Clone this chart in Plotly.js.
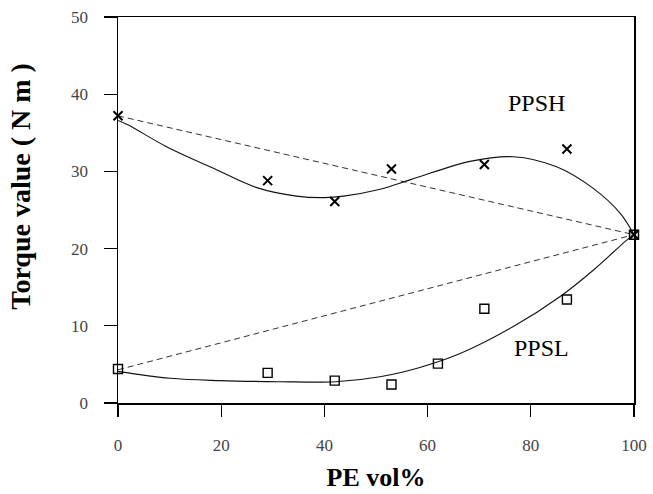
<!DOCTYPE html>
<html>
<head>
<meta charset="utf-8">
<script src="https://cdn.plot.ly/plotly-3.0.1.min.js"></script>
<style>html,body{margin:0;padding:0;background:#fff;}#chart{width:653px;height:494px;}</style>
</head>
<body>
<div id="chart"></div>
<script>
// Measured data (PPSH: x markers, PPSL: open squares)
const ppshX = [0, 29, 42, 53, 71, 87, 100];
const ppshY = [37.2, 28.8, 26.1, 30.3, 30.9, 32.9, 21.8];
const pslX = [0, 29, 42, 53, 62, 71, 87, 100];
const pslY = [4.4, 3.9, 2.9, 2.4, 5.1, 12.2, 13.4, 21.8];

// Smooth fitted curves
const ppshFitX = [0, 2, 9.4, 18.5, 26.9, 34.6, 40, 43.7, 50.8, 56.6, 68.2, 76.6, 85, 92.1, 97.3, 100];
const ppshFitY = [36.6, 36.0, 33.2, 30.4, 27.9, 26.8, 26.6, 26.8, 27.7, 28.9, 31.3, 31.9, 30.6, 27.8, 24.6, 21.8];
const ppslFitX = [0, 10.1, 19.8, 31.4, 42.2, 50.8, 58.5, 66.3, 76.6, 85.7, 92.1, 98.6, 100];
const ppslFitY = [4.1, 3.2, 2.9, 2.76, 2.76, 3.4, 4.6, 6.4, 9.9, 13.8, 17.2, 21.1, 21.8];

// Additivity (dashed) lines
const mixX = [0, 100];
const ppshMixY = [37.2, 21.8];
const ppslMixY = [4.3, 21.8];

const xTicks = [0, 20, 40, 60, 80, 100];
const yTicks = [0, 10, 20, 30, 40, 50];

const serif = "'Liberation Serif', 'Times New Roman', serif";

const traces = [
  {x: mixX, y: ppshMixY, mode: 'lines', line: {color: '#333', width: 1, dash: '6px,4px'}, hoverinfo: 'skip'},
  {x: mixX, y: ppslMixY, mode: 'lines', line: {color: '#333', width: 1, dash: '6px,4px'}, hoverinfo: 'skip'},
  {x: ppshFitX, y: ppshFitY, mode: 'lines', line: {color: '#111', width: 1.1, shape: 'spline', smoothing: 1}},
  {x: ppslFitX, y: ppslFitY, mode: 'lines', line: {color: '#111', width: 1.1, shape: 'spline', smoothing: 1}},
  {x: ppshX, y: ppshY, mode: 'markers', cliponaxis: false,
   marker: {symbol: 'x-thin-open', size: 9, color: '#000', line: {color: '#000', width: 2}}},
  {x: pslX, y: pslY, mode: 'markers', cliponaxis: false,
   marker: {symbol: 'square-open', size: 9, color: '#000', line: {color: '#000', width: 1.4}}}
];

const layout = {
  width: 653, height: 494,
  margin: {l: 118, r: 19, t: 17, b: 91},
  paper_bgcolor: '#fff', plot_bgcolor: '#fff',
  showlegend: false,
  font: {family: serif, color: '#000'},
  xaxis: {
    range: [0, 100], tickvals: xTicks, ticktext: xTicks.map(String),
    ticks: 'outside', ticklen: 12, tickwidth: 1.4, tickcolor: '#000',
    showline: true, linecolor: '#000', linewidth: 1.5, mirror: true,
    showgrid: false, zeroline: false,
    tickfont: {family: serif, size: 17, color: '#444'},
    ticklabelstandoff: 14,
    title: {text: 'PE vol%', font: {family: serif, size: 26, weight: 'bold', color: '#000'}, standoff: 14}
  },
  yaxis: {
    range: [0, 50], tickvals: yTicks, ticktext: yTicks.map(String),
    ticks: 'outside', ticklen: 13, tickwidth: 1.4, tickcolor: '#000',
    showline: true, linecolor: '#000', linewidth: 1.5, mirror: true,
    showgrid: false, zeroline: false,
    tickfont: {family: serif, size: 17, color: '#444'},
    ticklabelstandoff: 12
  },
  annotations: [
    {xref: 'paper', yref: 'paper', x: -0.188, y: 0.563, xanchor: 'center', yanchor: 'middle',
     text: 'Torque value ( N m )', textangle: -90, showarrow: false,
     font: {family: serif, size: 28, weight: 'bold', color: '#000'}},
    {x: 81.2, y: 38.9, xref: 'x', yref: 'y', text: 'PPSH', showarrow: false,
     font: {family: serif, size: 24, color: '#000'}},
    {x: 82, y: 7.1, xref: 'x', yref: 'y', text: 'PPSL', showarrow: false,
     font: {family: serif, size: 24, color: '#000'}}
  ]
};

Plotly.newPlot('chart', traces, layout, {staticPlot: true, displayModeBar: false});
</script>
</body>
</html>
